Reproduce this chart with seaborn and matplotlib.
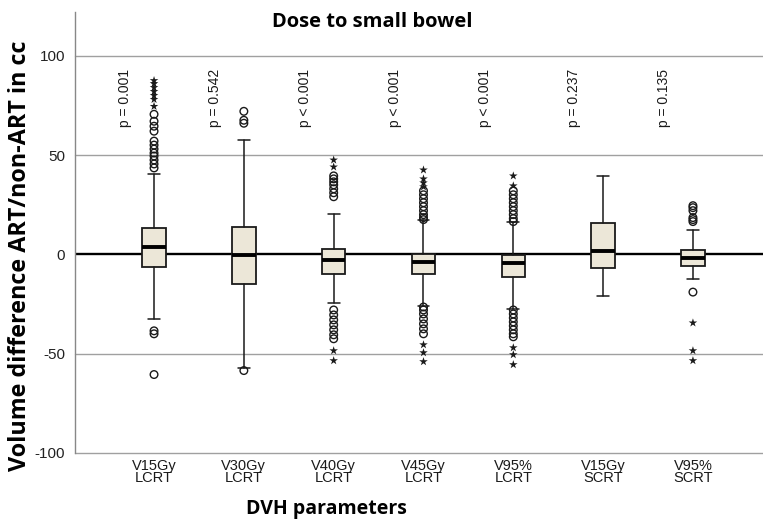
import matplotlib
matplotlib.use("Agg")
import matplotlib.pyplot as plt
import numpy as np
import pandas as pd
import seaborn as sns

# --- data -------------------------------------------------------------
categories = ["V15Gy\nLCRT", "V30Gy\nLCRT", "V40Gy\nLCRT", "V45Gy\nLCRT",
              "V95%\nLCRT", "V15Gy\nSCRT", "V95%\nSCRT"]
p_labels = ["p = 0.001", "p = 0.542", "p < 0.001", "p < 0.001",
            "p < 0.001", "p = 0.237", "p = 0.135"]

medians = [3.9, -0.5, -3.0, -3.9, -4.2, 1.5, -2.0]
q1s = [-6.2, -15.1, -9.7, -10.0, -11.4, -6.9, -5.9]
q3s = [13.1, 13.8, 2.5, 0.3, -0.3, 16.0, 2.0]
whisker_lo = [-32.4, -57.1, -24.3, -26.0, -27.7, -21.0, -12.6]
whisker_hi = [40.3, 57.6, 20.3, 17.1, 16.3, 39.5, 12.4]

# outliers (circles) and extreme values (stars) per parameter
outliers = [
    [-38.5, -40, -60.5, 43.5, 45.5, 47.5, 49.5, 51, 53, 55, 57, 62, 64.5, 67, 70.5],
    [-58.5, 66, 67.5, 72],
    [29, 31, 33, 35, 36.5, 38, 39.5, -28, -30.5, -33, -35.5, -38, -40.5, -42.5],
    [17.5, 18.5, 20, 22, 24, 26, 28, 30, 32, -26.5, -28, -30, -32.5, -35, -37.5, -40],
    [16.5, 18, 20, 22, 24, 26, 28, 30, 32, -28, -30, -32, -34, -36, -38, -40, -41.5],
    [],
    [16.5, 17.5, 18.5, 22, 23.5, 24.5, -19],
]
extremes = [
    [74.5, 78, 80, 82, 84, 86, 87.5],
    [],
    [44, 47.5, -48.5, -53.5],
    [34, 36, 38, 42.5, -45.5, -49.5, -54],
    [34.5, 39.5, -47, -50.5, -55.5],
    [],
    [-34.5, -48.5, -53.5],
]

# --- style ------------------------------------------------------------
sns.set_theme(style="white")
plt.rcParams["font.family"] = ["Liberation Sans", "DejaVu Sans"]

fig = plt.figure(figsize=(7.63, 5.22), dpi=100)
ax = fig.add_axes([75 / 763, 69 / 522, 1 - 75 / 763, (453 - 12) / 522])

positions = np.arange(len(categories))
stats = [dict(med=m, q1=a, q3=b, whislo=lo, whishi=hi, fliers=[])
         for m, a, b, lo, hi in zip(medians, q1s, q3s, whisker_lo, whisker_hi)]

# reference grid and zero line behind boxes
for v in (-100, -50, 50, 100):
    ax.axhline(v, color="#a0a0a0", lw=1.0, zorder=0, clip_on=False)
ax.axhline(0, color="black", lw=1.7, zorder=1)

ax.bxp(stats, positions=positions, widths=0.26, patch_artist=True,
       showfliers=False,
       boxprops=dict(facecolor="#ECE7D8", edgecolor="#1a1a1a", linewidth=1.3),
       medianprops=dict(color="black", linewidth=2.8),
       whiskerprops=dict(color="#1a1a1a", linewidth=1.1),
       capprops=dict(color="#1a1a1a", linewidth=1.1),
       zorder=2)

# outlier markers in long form
rows = []
for i, (o, e) in enumerate(zip(outliers, extremes)):
    rows += [(i, v, "outlier") for v in o]
    rows += [(i, v, "extreme") for v in e]
pts = pd.DataFrame(rows, columns=["pos", "value", "kind"])

circ = pts[pts.kind == "outlier"]
ax.scatter(circ["pos"], circ["value"], s=30, marker="o",
           facecolors="none", edgecolors="#1a1a1a", linewidths=1.0, zorder=3)
star = pts[pts.kind == "extreme"]
sns.scatterplot(data=star, x="pos", y="value", marker="*", s=42,
                color="#1a1a1a", edgecolor="none", legend=False, ax=ax, zorder=3)

# p-values above each box
for i, txt in enumerate(p_labels):
    ax.text(i - 0.32, 64, txt, rotation=90, ha="center", va="bottom",
            fontsize=10, color="#1a1a1a")

ax.set_xlim(-0.88, 6.78)
ax.set_ylim(-100, 122)
ax.set_xticks(positions)
ax.set_xticklabels(categories, fontsize=10.5, linespacing=0.85, color="#1a1a1a")
ax.set_yticks([-100, -50, 0, 50, 100])
ax.set_yticklabels(["-100", "-50", "0", "50", "100"], fontsize=11, color="#222222")
ax.tick_params(axis="y", length=0, pad=7)
ax.tick_params(axis="x", length=0, pad=4)
ax.set_xlabel("")
ax.set_ylabel("")
for side in ("top", "right", "bottom"):
    ax.spines[side].set_visible(False)
ax.spines["left"].set_color("#888888")
ax.spines["left"].set_linewidth(1.0)

bold = ["Open Sans", "DejaVu Sans"]
fig.text(372 / 763, 1 - 22 / 522, "Dose to small bowel", ha="center", va="center",
         fontsize=14.5, fontweight="bold", family=bold, color="black")
fig.text(326 / 763, 1 - 509 / 522, "DVH parameters", ha="center", va="center",
         fontsize=14, fontweight="bold", family=bold, color="black")
fig.text(20 / 763, 1 - 256 / 522, "Volume difference ART/non-ART in cc", ha="center",
         va="center", rotation=90, fontsize=16.8, fontweight="bold", family=bold,
         color="black")

fig.savefig("out.png", dpi=100)
